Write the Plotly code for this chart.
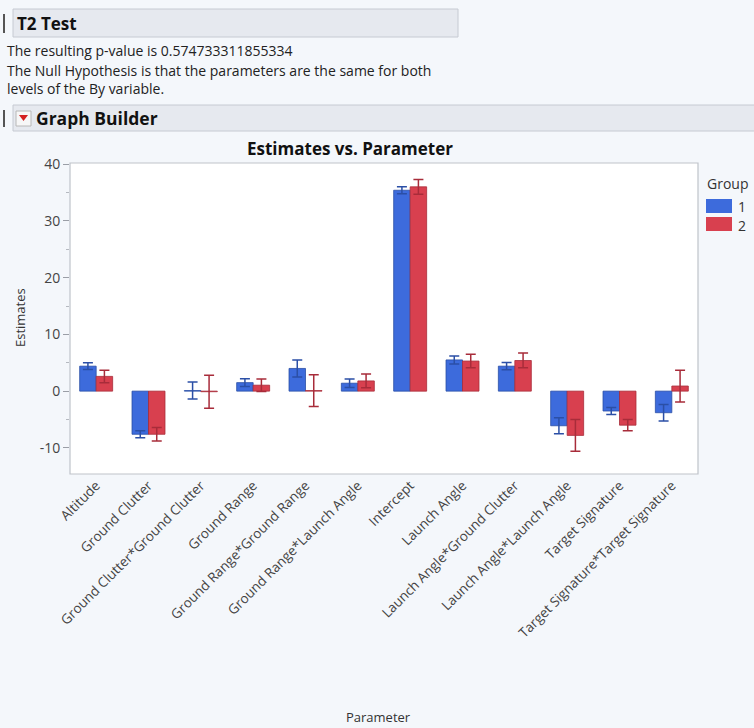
import plotly.graph_objects as go

# Parameter estimates for the two levels of the By variable
parameters = [
    "Altitude", "Ground Clutter", "Ground Clutter*Ground Clutter", "Ground Range",
    "Ground Range*Ground Range", "Ground Range*Launch Angle", "Intercept",
    "Launch Angle", "Launch Angle*Ground Clutter", "Launch Angle*Launch Angle",
    "Target Signature", "Target Signature*Target Signature",
]
group1_est = [4.4, -7.6, 0.1, 1.5, 4.0, 1.4, 35.4, 5.5, 4.4, -6.1, -3.5, -3.8]
group1_err = [0.6, 0.6, 1.5, 0.7, 1.5, 0.75, 0.6, 0.7, 0.65, 1.4, 0.6, 1.45]
group2_est = [2.6, -7.6, -0.1, 1.05, 0.1, 1.8, 36.0, 5.3, 5.4, -7.8, -6.0, 0.9]
group2_err = [1.1, 1.2, 2.9, 1.1, 2.8, 1.2, 1.3, 1.2, 1.3, 2.8, 1.0, 2.8]

y_ticks = [-10, 0, 10, 20, 30, 40]
group_names = ["1", "2"]

p_value_text = "The resulting p-value is 0.574733311855334"

BLUE, BLUE_DARK = "#3d6bdc", "#2b4fa6"
RED, RED_DARK = "#d8404f", "#a82c3a"
PAGE_BG = "#f4f7fb"
FONT = "Open Sans"

W, H = 754, 728
L, R, T, B = 70, 56, 163, 254
PW, PH = W - L - R, H - T - B


def px(x):
    return (x - L) / PW


def py(y):
    return (H - B - y) / PH


fig = go.Figure()
fig.add_trace(go.Bar(
    name=group_names[0], x=parameters, y=group1_est,
    marker=dict(color=BLUE, line=dict(color=BLUE_DARK, width=0.8)),
    error_y=dict(type="data", array=group1_err, color=BLUE_DARK, thickness=1.5, width=5),
))
fig.add_trace(go.Bar(
    name=group_names[1], x=parameters, y=group2_est,
    marker=dict(color=RED, line=dict(color=RED_DARK, width=0.8)),
    error_y=dict(type="data", array=group2_err, color=RED_DARK, thickness=1.5, width=5),
))

shapes = [
    # report section headers
    dict(type="rect", xref="paper", yref="paper", x0=px(13), x1=px(458), y0=py(37), y1=py(9),
         fillcolor="#e6e9ef", line=dict(color="#c6cad2", width=1), layer="below"),
    dict(type="rect", xref="paper", yref="paper", x0=px(3), x1=px(5), y0=py(33), y1=py(14),
         fillcolor="#555555", line=dict(width=0)),
    dict(type="rect", xref="paper", yref="paper", x0=px(13), x1=px(760), y0=py(131), y1=py(105),
         fillcolor="#e6e9ef", line=dict(color="#c6cad2", width=1), layer="below"),
    dict(type="rect", xref="paper", yref="paper", x0=px(3), x1=px(5), y0=py(127), y1=py(110),
         fillcolor="#555555", line=dict(width=0)),
    # disclosure button
    dict(type="rect", xref="paper", yref="paper", x0=px(16), x1=px(31), y0=py(126), y1=py(111),
         fillcolor="#f7f7f7", line=dict(color="#b8b8b8", width=1)),
    dict(type="path", xref="paper", yref="paper",
         path=f"M {px(19)} {py(115)} L {px(28)} {py(115)} L {px(23.5)} {py(121)} Z",
         fillcolor="#d42020", line=dict(width=0)),
    # plot frame
    dict(type="rect", xref="paper", yref="paper", x0=0, x1=1, y0=0, y1=1,
         line=dict(color="#bfc3ca", width=1.2)),
    # legend swatches
    dict(type="rect", xref="paper", yref="paper", x0=px(706), x1=px(732), y0=py(213), y1=py(199),
         fillcolor=BLUE, line=dict(width=0)),
    dict(type="rect", xref="paper", yref="paper", x0=px(706), x1=px(732), y0=py(231), y1=py(217),
         fillcolor=RED, line=dict(width=0)),
]

annotations = [
    dict(text="<b>T2 Test</b>", x=px(15), y=py(23), xanchor="left", yanchor="middle",
         font=dict(size=17, color="#111111", family=FONT)),
    dict(text=p_value_text, x=px(5), y=py(50), xanchor="left", yanchor="middle",
         font=dict(size=14, color="#222222", family=FONT)),
    dict(text="The Null Hypothesis is that the parameters are the same for both",
         x=px(5), y=py(70), xanchor="left", yanchor="middle",
         font=dict(size=14, color="#222222", family=FONT)),
    dict(text="levels of the By variable.", x=px(5), y=py(89), xanchor="left", yanchor="middle",
         font=dict(size=14, color="#222222", family=FONT)),
    dict(text="<b>Graph Builder</b>", x=px(34), y=py(118), xanchor="left", yanchor="middle",
         font=dict(size=17.5, color="#111111", family=FONT)),
    dict(text="<b>Estimates vs. Parameter</b>", x=px(350), y=py(148), xanchor="center",
         yanchor="middle", font=dict(size=17, color="#111111", family=FONT)),
    dict(text="Estimates", x=px(20), y=py(318), textangle=-90, xanchor="center",
         yanchor="middle", font=dict(size=13, color="#333333", family=FONT)),
    dict(text="Parameter", x=px(378), y=py(717), xanchor="center", yanchor="middle",
         font=dict(size=13, color="#333333", family=FONT)),
    # legend
    dict(text="Group", x=px(705), y=py(183), xanchor="left", yanchor="middle",
         font=dict(size=14, color="#333333", family=FONT)),
    dict(text=group_names[0], x=px(736), y=py(206), xanchor="left", yanchor="middle",
         font=dict(size=14, color="#333333", family=FONT)),
    dict(text=group_names[1], x=px(736), y=py(225), xanchor="left", yanchor="middle",
         font=dict(size=14, color="#333333", family=FONT)),
]
for a in annotations:
    a.update(xref="paper", yref="paper", showarrow=False)

fig.update_layout(
    width=W, height=H,
    margin=dict(l=L, r=R, t=T, b=B, autoexpand=False),
    paper_bgcolor=PAGE_BG, plot_bgcolor="white",
    barmode="group", bargap=0.37, bargroupgap=0,
    font=dict(family=FONT, color="#444444"),
    showlegend=False,
    shapes=shapes, annotations=annotations,
)
fig.update_xaxes(
    tickangle=-45, tickfont=dict(size=13.5, color="#444444"),
    showgrid=False, showline=False, ticks="", automargin=False,
)
fig.update_yaxes(
    range=[-14.6, 40.2], tickvals=y_ticks, ticktext=[str(v) for v in y_ticks],
    tickfont=dict(size=14, color="#444444"),
    showgrid=False, zeroline=False, showline=False,
    ticks="outside", ticklen=6, tickcolor="#9a9ea6",
    minor=dict(ticks="outside", ticklen=3, tickcolor="#b5b9c0", dtick=5, tick0=0),
    automargin=False,
)

fig.write_html("out.html")
